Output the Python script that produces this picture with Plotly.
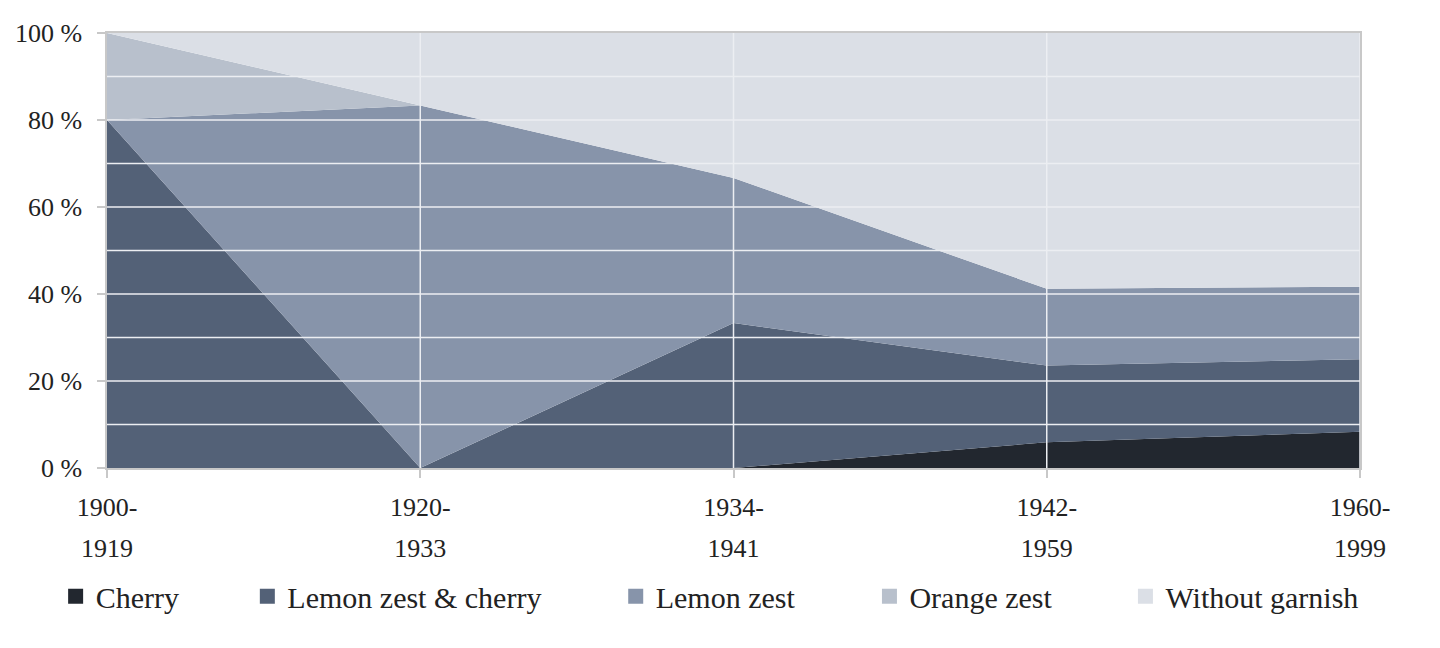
import plotly.graph_objects as go

periods = ["1900-1919", "1920-1933", "1934-1941", "1942-1959", "1960-1999"]
series_names = ["Cherry", "Lemon zest & cherry", "Lemon zest", "Orange zest", "Without garnish"]
cherry = [0, 0, 0, 5.9, 8.33]
lemon_cherry = [80, 0, 33.33, 17.65, 16.67]
lemon = [0, 83.33, 33.33, 17.65, 16.67]
orange = [20, 0, 0, 0, 0]
without = [0, 16.67, 33.34, 58.8, 58.33]
colors = ["#22272f", "#536177", "#8794aa", "#b8c0cc", "#dbdfe6"]
y_ticks = [0, 20, 40, 60, 80, 100]
grid_vals = [10, 20, 30, 40, 50, 60, 70, 80, 90]

values = [cherry, lemon_cherry, lemon, orange, without]
FONT = "Liberation Serif"

fig = go.Figure()
for name, vals, col in zip(series_names, values, colors):
    fig.add_trace(go.Scatter(
        x=periods, y=vals, name=name, stackgroup="one", mode="lines",
        line=dict(width=0, color=col), fillcolor=col, showlegend=False,
        hoverinfo="skip"))

legend_x = [-0.041, 0.112, 0.406, 0.6085, 0.8128]
for i, (name, col) in enumerate(zip(series_names, colors)):
    lg = "legend" if i == 0 else f"legend{i+1}"
    fig.add_trace(go.Scatter(
        x=[None], y=[None], mode="markers", name=name,
        marker=dict(symbol="square", size=15, color=col),
        legend=lg, showlegend=True))

ticktext = ['<span style="font-size:26px">' + p.split("-")[0] + '-</span><br>'
            '<span style="font-size:26px">' + p.split("-")[1] + '</span>' for p in periods]

layout_legends = {}
for i in range(5):
    lg = "legend" if i == 0 else f"legend{i+1}"
    layout_legends[lg] = dict(
        x=legend_x[i], xanchor="left", y=-0.295, yanchor="middle",
        orientation="h", bgcolor="rgba(0,0,0,0)",
        font=dict(family=FONT, size=30, color="#222"),
        itemclick=False, itemdoubleclick=False)

shapes = []
for g in grid_vals:
    shapes.append(dict(type="line", xref="paper", yref="y", x0=0, x1=1, y0=g, y1=g,
                       line=dict(color="#eceef2", width=1.5), layer="above"))
for p in periods[1:]:
    shapes.append(dict(type="line", xref="x", yref="paper", x0=p, x1=p, y0=0, y1=1,
                       line=dict(color="#eceef2", width=1.5), layer="above"))

fig.update_layout(
    width=1440, height=648,
    margin=dict(l=99, r=88, t=25, b=188, autoexpand=False),
    paper_bgcolor="white", plot_bgcolor="white",
    font=dict(family=FONT, color="#222"),
    shapes=shapes,
    hovermode=False,
    **layout_legends,
)
fig.update_xaxes(
    type="category", range=[0, len(periods) - 1],
    tickmode="array", tickvals=periods, ticktext=ticktext,
    tickfont=dict(family=FONT, size=31.5, color="#222"),
    showgrid=False, showline=True, linecolor="#c8c8c8", linewidth=1.5, mirror=True,
    ticks="outside", ticklen=8, tickcolor="#c8c8c8", tickwidth=1.5,
    zeroline=False, fixedrange=True, automargin=False)
fig.update_yaxes(
    range=[0, 100], tickvals=y_ticks, ticktext=[f"{v} %" for v in y_ticks],
    tickfont=dict(family=FONT, size=26, color="#222"),
    ticklabelstandoff=10,
    showgrid=False, showline=True, linecolor="#c8c8c8", linewidth=1.5, mirror=True,
    ticks="outside", ticklen=8, tickcolor="#c8c8c8", tickwidth=1.5,
    zeroline=False, fixedrange=True, automargin=False)

fig.write_html("out.html")
